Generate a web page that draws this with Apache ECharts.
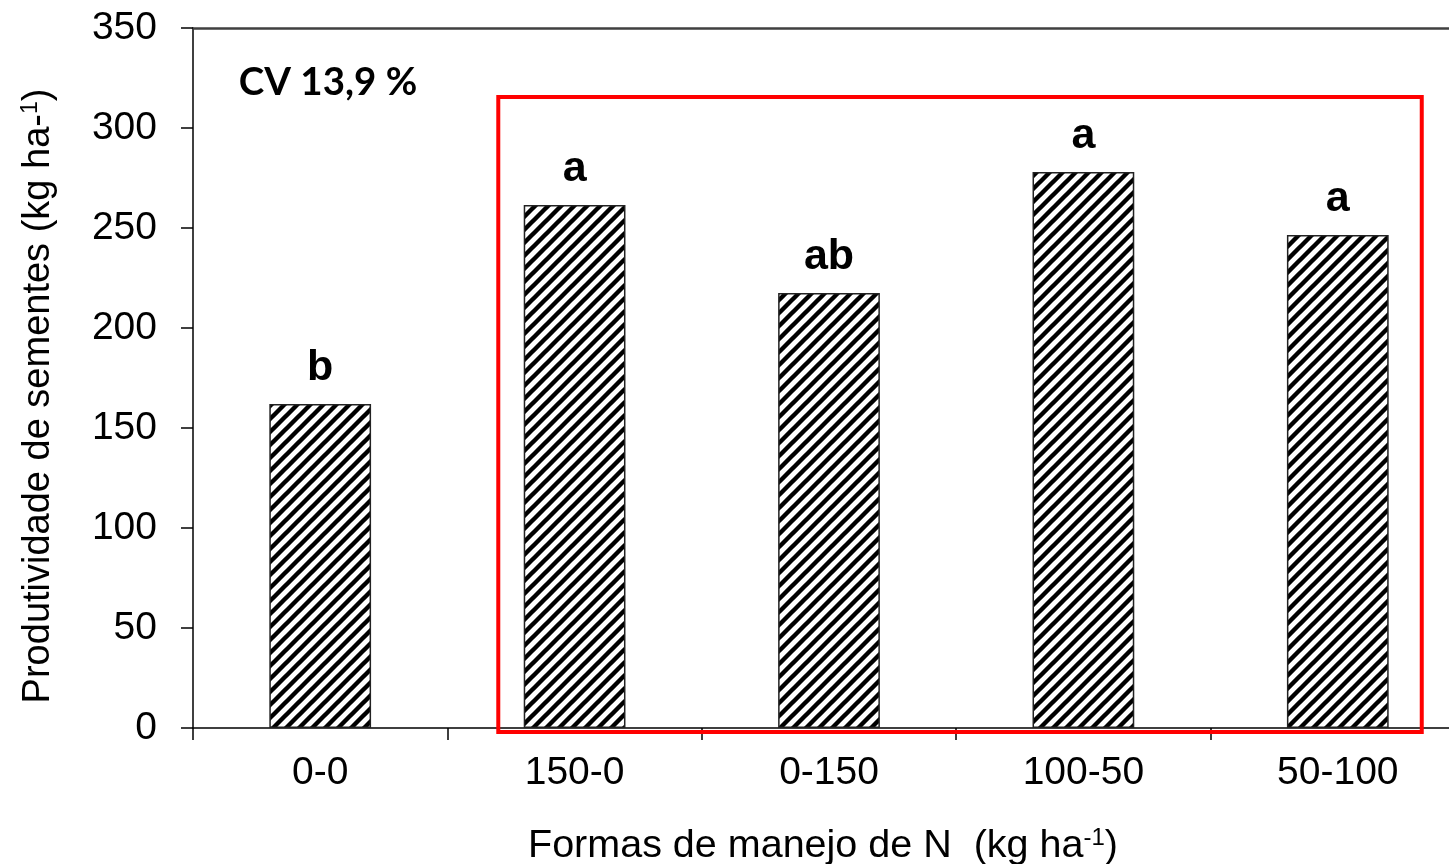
<!DOCTYPE html>
<html>
<head>
<meta charset="utf-8">
<script src="https://cdn.jsdelivr.net/npm/echarts@6/dist/echarts.min.js"></script>
<style>
  html, body { margin: 0; padding: 0; background: #fff; }
  #chart { width: 1449px; height: 864px; }
</style>
</head>
<body>
<div id="chart"></div>
<script>
// N management schemes and seed yield
const categories = ['0-0', '150-0', '0-150', '100-50', '50-100'];
const yieldValues = [162, 261.5, 217.5, 278, 246.5];
const groupLetters = ['b', 'a', 'ab', 'a', 'a'];
const yTicks = [0, 50, 100, 150, 200, 250, 300, 350];
const cvText = 'CV 13,9 %';

// Highlighted treatments: category span (index units) and value span
const boxCats = [0.7, 4.33];
const boxVals = [-2, 315.5];
// CV note anchor (category index units, value units)
const cvAnchor = [-0.32, 322.5];

// Diagonal hatch tile for the bars (one "/" stripe per tile)
function hatchPattern() {
  const s = 13;
  const c = document.createElement('canvas');
  c.width = s; c.height = s;
  const g = c.getContext('2d');
  g.fillStyle = '#fff';
  g.fillRect(0, 0, s, s);
  g.strokeStyle = '#000';
  g.lineWidth = 4.4;
  g.beginPath();
  g.moveTo(-2, s + 2); g.lineTo(s + 2, -2);
  g.moveTo(-4, 4); g.lineTo(4, -4);
  g.moveTo(s - 4, s + 4); g.lineTo(s + 4, s - 4);
  g.stroke();
  return c;
}

const sansFont = '"Liberation Sans", Arial, sans-serif';
const chart = echarts.init(document.getElementById('chart'));

const option = {
  animation: false,
  backgroundColor: '#fff',
  grid: { left: 193, top: 28, width: 1272, height: 700, outerBoundsMode: 'none' },
  xAxis: [{
    type: 'category',
    data: categories,
    position: 'bottom',
    axisLine: { lineStyle: { color: '#000', width: 1.5 } },
    axisTick: { show: true, length: 12, interval: 0, lineStyle: { color: '#000', width: 1.5 } },
    axisLabel: { fontFamily: sansFont, fontSize: 39, color: '#000', margin: 26, interval: 0 },
    name: '{t|Formas de manejo de N  (kg ha}{s|-1}{t|)}',
    nameLocation: 'middle',
    nameGap: 98,
    nameTextStyle: {
      padding: [0, 12, 0, 0],
      rich: {
        t: { fontFamily: sansFont, fontSize: 39.5, color: '#000' },
        s: { fontFamily: sansFont, fontSize: 24, color: '#000', verticalAlign: 'top', padding: [0, 0, 16, 0] }
      }
    }
  }, {
    type: 'category',
    data: categories,
    position: 'top',
    axisLine: { show: true, lineStyle: { color: '#404040', width: 2.5 } },
    axisTick: { show: false },
    axisLabel: { show: false }
  }],
  yAxis: {
    type: 'value',
    min: 0,
    max: 350,
    interval: 50,
    axisLine: { show: true, lineStyle: { color: '#000', width: 1.5 } },
    axisTick: { show: true, length: 12, lineStyle: { color: '#000', width: 1.5 } },
    splitLine: { show: false },
    axisLabel: {
      fontFamily: sansFont, fontSize: 39, color: '#000', margin: 36,
      formatter: v => (yTicks.indexOf(v) >= 0 ? String(v) : '')
    },
    name: '{t|Produtividade de sementes (kg ha-}{s|1}{t|)}',
    nameLocation: 'middle',
    nameGap: 135,
    nameTextStyle: {
      padding: [0, 36, 0, 0],
      rich: {
        t: { fontFamily: sansFont, fontSize: 38, color: '#000' },
        s: { fontFamily: sansFont, fontSize: 23, color: '#000', verticalAlign: 'top', padding: [0, 0, 16, 0] }
      }
    }
  },
  series: [{
    type: 'bar',
    data: yieldValues,
    barWidth: '40%',
    itemStyle: {
      color: { image: hatchPattern(), repeat: 'repeat' },
      borderColor: '#222',
      borderWidth: 1.5
    },
    label: {
      show: true,
      position: 'top',
      distance: 14,
      fontFamily: sansFont,
      fontWeight: 'bold',
      fontSize: 43,
      color: '#000',
      formatter: p => groupLetters[p.dataIndex]
    }
  }]
};

chart.setOption(option);

// Category index (possibly fractional) -> pixel x
function catToPx(i) {
  const p0 = chart.convertToPixel({ xAxisIndex: 0 }, categories[0]);
  const p1 = chart.convertToPixel({ xAxisIndex: 0 }, categories[1]);
  return p0 + i * (p1 - p0);
}
const x0 = catToPx(boxCats[0]);
const x1 = catToPx(boxCats[1]);
const y0 = chart.convertToPixel({ yAxisIndex: 0 }, boxVals[1]);
const y1 = chart.convertToPixel({ yAxisIndex: 0 }, boxVals[0]);
const cvX = catToPx(cvAnchor[0]);
const cvY = chart.convertToPixel({ yAxisIndex: 0 }, cvAnchor[1]);

chart.setOption({
  graphic: [{
    type: 'rect',
    shape: { x: x0, y: y0, width: x1 - x0, height: y1 - y0 },
    style: { fill: 'none', stroke: '#ff0000', lineWidth: 4 },
    z: 10
  }, {
    type: 'text',
    x: cvX,
    y: cvY,
    style: {
      text: cvText,
      fontFamily: 'Lato, "Open Sans", sans-serif',
      fontWeight: 'bold',
      fontSize: 38.5,
      fill: '#000',
      verticalAlign: 'middle'
    },
    z: 10
  }]
});
</script>
</body>
</html>
